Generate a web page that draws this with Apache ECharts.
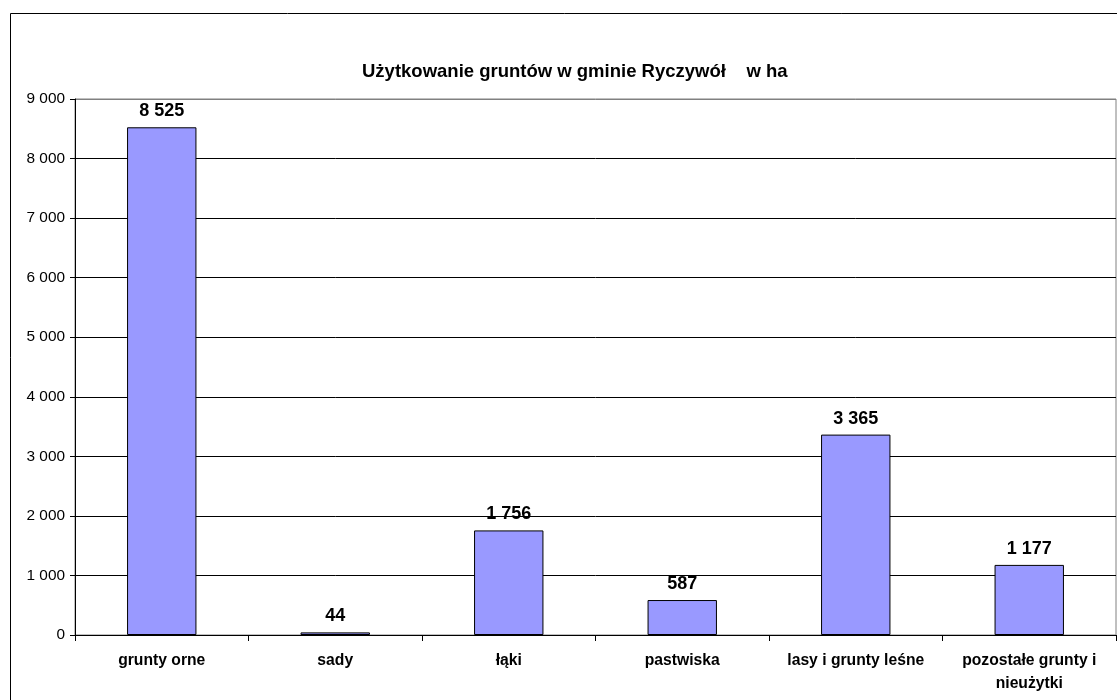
<!DOCTYPE html>
<html>
<head>
<meta charset="utf-8">
<script src="https://cdn.jsdelivr.net/npm/echarts@6/dist/echarts.min.js"></script>
<style>
  html, body { margin: 0; padding: 0; background: #fff; }
  #main { width: 1117px; height: 700px; }
</style>
</head>
<body>
<div id="main"></div>
<script>
const categories = ['grunty orne', 'sady', 'łąki', 'pastwiska', 'lasy i grunty leśne', 'pozostałe grunty i\nnieużytki']
const values = [8525, 44, 1756, 587, 3365, 1177]
const yTicks = { min: 0, max: 9000, interval: 1000 }

const font = '"Liberation Sans", Arial, sans-serif'
// liczby z odstępem tysięcy, jak w oryginale
const fmt = (v) => String(v).replace(/\B(?=(\d{3})+(?!\d))/g, ' ')

const chart = echarts.init(document.getElementById('main'))
chart.setOption({
  animation: false,
  textStyle: { fontFamily: font },
  title: {
    text: 'Użytkowanie gruntów w gminie Ryczywół    w ha',
    left: 357,
    top: 57,
    textStyle: { fontSize: 18.5, fontWeight: 'bold', color: '#000', fontFamily: font }
  },
  graphic: [{
    type: 'rect',
    shape: { x: 10.5, y: 13.5, width: 1110, height: 700 },
    style: { fill: 'none', stroke: '#000', lineWidth: 1 },
    silent: true
  }],
  grid: {
    left: 75, top: 99, right: 1, bottom: 65,
    show: true, borderColor: '#808080', borderWidth: 1
  },
  xAxis: {
    type: 'category',
    data: categories,
    axisLine: { lineStyle: { color: '#000' } },
    axisTick: { show: true, length: 6, lineStyle: { color: '#000' } },
    axisLabel: {
      interval: 0, margin: 14, color: '#000',
      fontSize: 15.7, fontWeight: 'bold', fontFamily: font, lineHeight: 23
    }
  },
  yAxis: {
    type: 'value',
    min: yTicks.min, max: yTicks.max, interval: yTicks.interval,
    axisLine: { show: true, lineStyle: { color: '#000' } },
    axisTick: { show: true, length: 5, lineStyle: { color: '#000' } },
    axisLabel: { formatter: fmt, color: '#000', fontSize: 15.4, margin: 10, fontFamily: font },
    splitLine: {
      lineStyle: {
        color: ['#000', '#000', '#000', '#000', '#000', '#000', '#000', '#000', '#000', '#808080'],
        width: 1
      }
    }
  },
  series: [{
    type: 'bar',
    data: values,
    barCategoryGap: '60%',
    itemStyle: { color: '#9999FF', borderColor: '#000', borderWidth: 1 },
    label: {
      show: true, position: 'top', distance: 7,
      formatter: (p) => fmt(p.value),
      color: '#000', fontSize: 18, fontWeight: 'bold', fontFamily: font
    }
  }]
})
</script>
</body>
</html>
